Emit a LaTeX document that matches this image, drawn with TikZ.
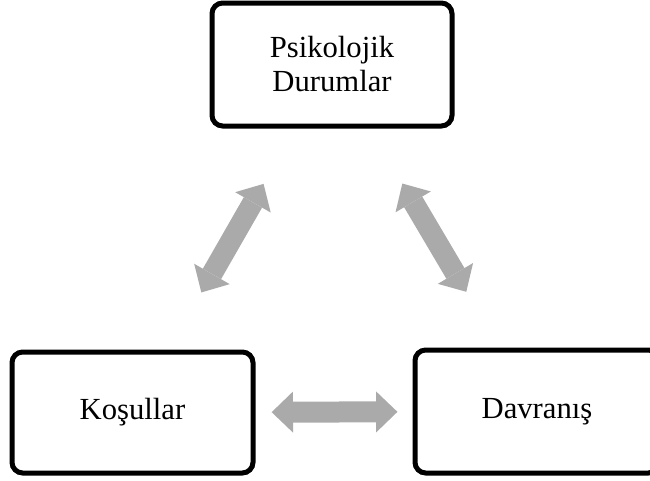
\documentclass[tikz,border=0pt]{standalone}
\usepackage{fontspec}
\setmainfont{Liberation Serif}
\usetikzlibrary{arrows.meta,calc}
\definecolor{arrowgray}{RGB}{170,170,170}
\tikzset{
  box/.style={draw=black, line width=3.75pt, rounded corners=8pt, fill=white,
    align=center, font=\fontsize{23}{25.5}\selectfont, inner sep=0pt},
  bigarrow/.style={draw=arrowgray, line width=15.75pt,
    {Triangle[width=30.75pt,length=16pt,line width=0pt]}-{Triangle[width=30.75pt,length=16pt,line width=0pt]}}
}
\begin{document}
\begin{tikzpicture}[x=0.75pt,y=-0.75pt]
\useasboundingbox (0,0) rectangle (650,480);
\clip (0,0) rectangle (650,480);
\node[box, minimum width=180pt, minimum height=92.25pt] (psy) at (332,64.5) {Psikolojik\\Durumlar};
\node[box, minimum width=180.75pt, minimum height=90.75pt] (kos) at (132.5,412.5) {Koşullar};
\node[box, minimum width=183pt, minimum height=92.25pt] (dav) at (537,411.5) {Davranış};
\draw[bigarrow] ($(psy.center)!0.343!(kos.center)$) -- ($(psy.center)!0.655!(kos.center)$);
\draw[bigarrow] ($(psy.center)!0.343!(dav.center)$) -- ($(psy.center)!0.655!(dav.center)$);
\draw[bigarrow] ($(kos.center)!0.344!(dav.center)$) -- ($(kos.center)!0.655!(dav.center)$);
\end{tikzpicture}
\end{document}
